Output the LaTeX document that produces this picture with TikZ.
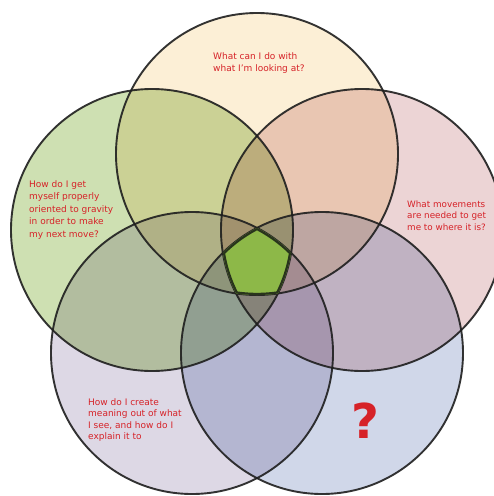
\documentclass[tikz,border=0pt]{standalone}
\usepackage{fontspec}
\setsansfont{DejaVu Sans}
\usetikzlibrary{positioning,calc}
\definecolor{lookfill}{RGB}{252,239,214}
\definecolor{movefill}{RGB}{236,212,213}
\definecolor{orientfill}{RGB}{206,224,178}
\definecolor{explainfill}{RGB}{221,216,229}
\definecolor{unknownfill}{RGB}{208,215,233}
\definecolor{corefill}{RGB}{141,184,72}
\definecolor{ringline}{RGB}{30,30,30}
\definecolor{coreline}{RGB}{40,52,28}
\definecolor{askred}{RGB}{214,34,40}
\tikzset{
    ring/.style={draw=ringline, line width=1.9pt, draw opacity=0.9},
    ask/.style={text=askred, align=left, anchor=north west, inner sep=0pt},
}

\begin{document}
\begin{tikzpicture}[x=1pt,y=-1pt]
    \clip (0,0) rectangle (494,496);
    \coordinate (look) at (257,154);
    \coordinate (orient) at (152,230);
    \coordinate (move) at (362,230);
    \coordinate (explain) at (192,353);
    \coordinate (unknown) at (322,353);
    \begin{scope}[blend group=multiply]
        \fill[lookfill] (look) circle (141pt);
        \fill[movefill] (move) circle (141pt);
        \fill[unknownfill] (unknown) circle (141pt);
        \fill[explainfill] (explain) circle (141pt);
        \fill[orientfill] (orient) circle (141pt);
    \end{scope}
    \draw[ring] (look) circle (141pt);
    \draw[ring] (move) circle (141pt);
    \draw[ring] (unknown) circle (141pt);
    \draw[ring] (explain) circle (141pt);
    \draw[ring] (orient) circle (141pt);
    % the part all five share
    \begin{scope}
        \clip (look) circle (141pt);
        \clip (move) circle (141pt);
        \clip (unknown) circle (141pt);
        \clip (explain) circle (141pt);
        \clip (orient) circle (141pt);
        \fill[corefill] (0,0) rectangle (494,496);
        \draw[coreline,line width=4.4pt] (look) circle (141pt) (move) circle (141pt)
            (unknown) circle (141pt) (explain) circle (141pt) (orient) circle (141pt);
    \end{scope}
    \node[ask,font=\sffamily\fontsize{9}{12}\selectfont] (lookq) at (213,52.4)
        {What can I do with\\what I'm looking at?}; %label
    \node[ask,font=\sffamily\fontsize{9}{12.5}\selectfont] (orientq) at (29,180.4)
        {How do I get\\myself properly\\oriented to gravity\\in order to make\\my next move?}; %label
    \node[ask,font=\sffamily\fontsize{8.8}{11.7}\selectfont] (moveq) at (407,200.4)
        {What movements\\are needed to get\\me to where it is?}; %label
    \node[ask,font=\sffamily\fontsize{9}{11.3}\selectfont] (explainq) at (88,398.4)
        {How do I create\\meaning out of what\\I see, and how do I\\explain it to}; %label
    \node[text=askred,font=\sffamily\bfseries\fontsize{48}{48}\selectfont] (unknownq) at (365,421) {?};
\end{tikzpicture}
\end{document}
